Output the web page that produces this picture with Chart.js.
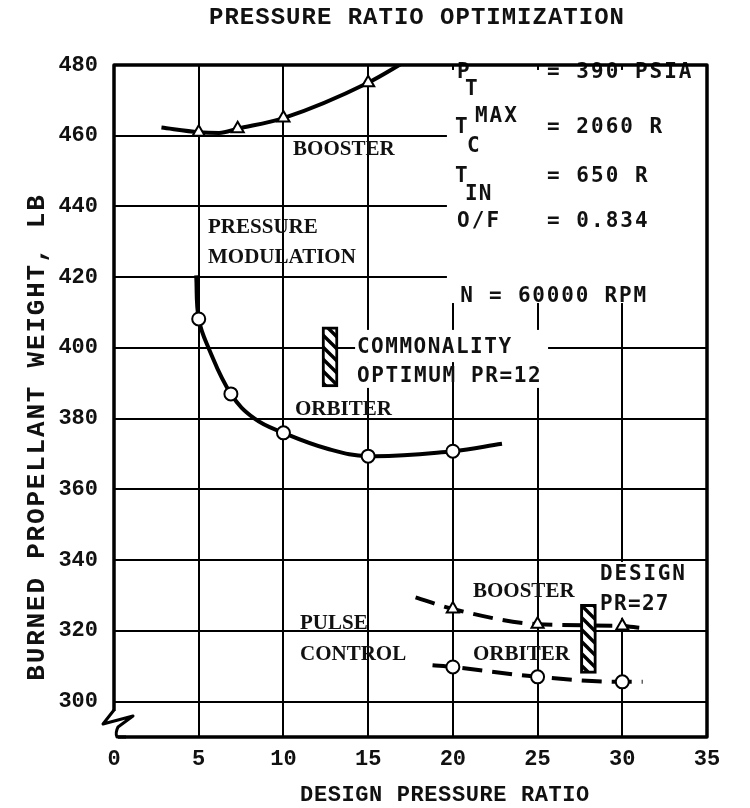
<!DOCTYPE html>
<html><head><meta charset="utf-8">
<script src="https://cdn.jsdelivr.net/npm/chart.js@4"></script>
<style>html,body{margin:0;padding:0;background:#fff}canvas{display:block}</style>
</head><body>
<canvas id="c" width="750" height="808"></canvas>
<script>
// ---------- text ----------
const chartTitle = 'PRESSURE RATIO OPTIMIZATION';
const xAxisTitle = 'DESIGN PRESSURE RATIO';
const yAxisTitle = 'BURNED PROPELLANT WEIGHT, LB';

// ---------- axes ----------
const xTicks = [0, 5, 10, 15, 20, 25, 30, 35];
const yTicks = [300, 320, 340, 360, 380, 400, 420, 440, 460, 480];
const xRange = [0, 35];
const yRange = [290, 480];

// ---------- pressure modulation: booster (solid, triangles) ----------
const pmBoosterCurveX = [2.8, 5, 6.2, 7.3, 10, 15, 17.2];
const pmBoosterCurveY = [462.3, 461, 460.8, 462, 465, 475, 481];
const pmBoosterPtsX = [5, 7.3, 10, 15];
const pmBoosterPtsY = [461, 462, 465, 475];

// ---------- pressure modulation: orbiter (solid, circles) ----------
const pmOrbiterCurveX = [4.85, 5, 5.58, 6.9, 8.3, 10, 12.6, 15, 20, 22.9];
const pmOrbiterCurveY = [420.5, 408.2, 400, 387, 380, 376, 371.5, 369.4, 370.8, 372.9];
const pmOrbiterPtsX = [5, 6.9, 10, 15, 20];
const pmOrbiterPtsY = [408.2, 387, 376, 369.4, 370.8];

// ---------- pulse control: booster (dashed, triangles) ----------
const pcBoosterCurveX = [17.8, 20, 25, 30, 31];
const pcBoosterCurveY = [329.5, 326.2, 321.9, 321.4, 320.9];
const pcBoosterPtsX = [20, 25, 30];
const pcBoosterPtsY = [326.2, 321.9, 321.4];

// ---------- pulse control: orbiter (dashed, circles) ----------
const pcOrbiterCurveX = [18.8, 20, 25, 30, 31.2];
const pcOrbiterCurveY = [310.3, 309.8, 307, 305.6, 305.6];
const pcOrbiterPtsX = [20, 25, 30];
const pcOrbiterPtsY = [309.8, 307, 305.6];

// ---------- optimum bands (hatched bars) ----------
const bandX = [12.75, 28];
const bandLow = [389, 308];
const bandHigh = [406, 327.5];

// ---------- helpers ----------
const toPts = (xs, ys) => xs.map((x, i) => ({x: x, y: ys[i]}));

function hatch() {
  const c = document.createElement('canvas');
  c.width = 12; c.height = 12;
  const g = c.getContext('2d');
  g.fillStyle = '#fff'; g.fillRect(0, 0, 12, 12);
  g.strokeStyle = '#000'; g.lineWidth = 3.4;
  g.beginPath();
  g.moveTo(-3, -3); g.lineTo(15, 15);
  g.moveTo(-15, -3); g.lineTo(3, 15);
  g.moveTo(9, -3); g.lineTo(27, 15);
  g.stroke();
  return document.getElementById('c').getContext('2d').createPattern(c, 'repeat');
}

const MONO = 'DejaVu Sans Mono';
const SERIF = 'Liberation Serif';
const TYPE = 'Liberation Mono';

// annotation text, positioned in data coordinates (x = left edge, y = baseline)
const labels = [
  {t: 'BOOSTER', x: 10.57, y: 454.6, f: SERIF, s: 21, b: true},
  {t: 'PRESSURE', x: 5.55, y: 432.5, f: SERIF, s: 21, b: true},
  {t: 'MODULATION', x: 5.55, y: 424.0, f: SERIF, s: 21, b: true},
  {t: 'ORBITER', x: 10.68, y: 381.1, f: SERIF, s: 21, b: true},
  {t: 'PULSE', x: 10.98, y: 320.4, f: SERIF, s: 21, b: true},
  {t: 'CONTROL', x: 10.98, y: 311.9, f: SERIF, s: 21, b: true},
  {t: 'BOOSTER', x: 21.19, y: 329.6, f: SERIF, s: 21, b: true},
  {t: 'ORBITER', x: 21.19, y: 311.9, f: SERIF, s: 21, b: true},
  {t: 'DESIGN', x: 28.69, y: 334.4, f: MONO, s: 21, sp: 1.8, b: true},
  {t: 'PR=27', x: 28.69, y: 325.9, f: MONO, s: 21, sp: 1.3, b: true},
  {t: 'COMMONALITY', x: 14.34, y: 398.6, f: MONO, s: 21, sp: 1.5, b: true},
  {t: 'OPTIMUM PR=12', x: 14.34, y: 390.4, f: MONO, s: 21, sp: 1.6, b: true},
  {t: 'P', x: 20.25, y: 476.3, f: MONO, s: 21, b: true},
  {t: 'T', x: 20.72, y: 471.5, f: MONO, s: 21, b: true},
  {t: 'MAX', x: 21.3, y: 463.9, f: MONO, s: 21, sp: 2, b: true},
  {t: '= 390 PSIA', x: 25.56, y: 476.3, f: MONO, s: 21, sp: 2, b: true},
  {t: 'T', x: 20.13, y: 460.8, f: MONO, s: 21, b: true},
  {t: 'C', x: 20.84, y: 455.4, f: MONO, s: 21, b: true},
  {t: '= 2060 R', x: 25.56, y: 460.8, f: MONO, s: 21, sp: 2, b: true},
  {t: 'T', x: 20.13, y: 446.9, f: MONO, s: 21, b: true},
  {t: 'IN', x: 20.72, y: 441.8, f: MONO, s: 21, sp: 1, b: true},
  {t: '= 650 R', x: 25.56, y: 446.9, f: MONO, s: 21, sp: 2, b: true},
  {t: 'O/F', x: 20.25, y: 434.2, f: MONO, s: 21, sp: 2, b: true},
  {t: '= 0.834', x: 25.56, y: 434.2, f: MONO, s: 21, sp: 2, b: true},
  {t: 'N = 60000 RPM', x: 20.43, y: 413.0, f: MONO, s: 21, sp: 1.8, b: true}
];
// white masks (data coords) that interrupt the grid behind text
const masks = [
  [19.65, 35, 478.6, 412.7],
  [14.23, 25.62, 405.1, 396.0],
  [14.23, 19.95, 396.0, 388.7],
  [20.54, 25.5, 396.0, 388.7],
  [28.51, 34.0, 339.5, 323.7]
];

function setSpacing(ctx, sp) {
  if ('letterSpacing' in ctx) ctx.letterSpacing = (sp || 0) + 'px';
}

const decor = {
  id: 'decor',
  beforeDatasetsDraw(chart) {
    const {ctx, scales: {x, y}} = chart;
    ctx.save();
    ctx.fillStyle = '#fff';
    masks.forEach(m => {
      const x0 = x.getPixelForValue(m[0]), x1 = x.getPixelForValue(m[1]);
      const y0 = y.getPixelForValue(m[2]), y1 = y.getPixelForValue(m[3]);
      ctx.fillRect(x0, y0, x1 - x0, y1 - y0);
    });
    ctx.restore();
  },
  afterDatasetsDraw(chart) {
    const {ctx, chartArea: a, scales: {x, y}} = chart;
    ctx.save();
    ctx.fillStyle = '#111';
    ctx.textBaseline = 'alphabetic';
    ctx.textAlign = 'left';
    labels.forEach(l => {
      ctx.font = (l.b ? 'bold ' : '') + l.s + 'px "' + l.f + '"';
      setSpacing(ctx, l.sp);
      ctx.fillText(l.t, x.getPixelForValue(l.x), y.getPixelForValue(l.y));
    });
    setSpacing(ctx, 0);
    // frame
    ctx.strokeStyle = '#000';
    ctx.lineWidth = 3.5;
    ctx.lineJoin = 'round';
    ctx.strokeRect(a.left, a.top, a.right - a.left, a.bottom - a.top);
    // axis break on the left
    const L = a.left, B = a.bottom;
    ctx.fillStyle = '#fff';
    ctx.fillRect(L - 4, B - 26, 8, 28);
    ctx.lineWidth = 3;
    ctx.beginPath();
    ctx.moveTo(L, B - 27);
    ctx.lineTo(L - 11, B - 13);
    ctx.lineTo(L + 19, B - 21);
    ctx.lineTo(L + 4, B - 10);
    ctx.quadraticCurveTo(L + 1, B - 4, L + 3, B);
    ctx.lineTo(L + 12, B);
    ctx.stroke();
    ctx.restore();
  },
  afterDraw(chart) {
    const {ctx} = chart;
    ctx.save();
    ctx.fillStyle = '#111';
    ctx.textAlign = 'center';
    ctx.textBaseline = 'middle';
    ctx.font = 'bold 24px "' + TYPE + '"';
    setSpacing(ctx, 1);
    ctx.fillText(chartTitle, 417, 18);
    ctx.font = 'bold 22px "' + TYPE + '"';
    setSpacing(ctx, 0.6);
    ctx.fillText(xAxisTitle, 445, 795);
    ctx.translate(37, 437);
    ctx.rotate(-Math.PI / 2);
    ctx.font = 'bold 26px "' + TYPE + '"';
    setSpacing(ctx, 1.8);
    ctx.fillText(yAxisTitle, 0, 0);
    ctx.restore();
  }
};

const solid = {borderColor: '#000', borderWidth: 4, pointRadius: 0, fill: false,
  cubicInterpolationMode: 'monotone', clip: 0, showLine: true, order: 3};
const smooth = Object.assign({}, solid, {cubicInterpolationMode: 'default', tension: 0.4});
const dashed = Object.assign({}, solid, {borderDash: [20, 10]});
const tri = {pointStyle: 'triangle', pointRadius: 7, backgroundColor: '#fff',
  borderColor: '#000', borderWidth: 2, showLine: false, order: 0};
const circ = {pointStyle: 'circle', pointRadius: 6.5, backgroundColor: '#fff',
  borderColor: '#000', borderWidth: 2, showLine: false, order: 0};

new Chart(document.getElementById('c'), {
  type: 'scatter',
  data: {
    datasets: [
      Object.assign({type: 'line', label: 'PM booster curve', data: toPts(pmBoosterCurveX, pmBoosterCurveY)}, solid),
      Object.assign({type: 'line', label: 'PM orbiter curve', data: toPts(pmOrbiterCurveX, pmOrbiterCurveY)}, smooth),
      Object.assign({type: 'line', label: 'PC booster curve', data: toPts(pcBoosterCurveX, pcBoosterCurveY)}, dashed),
      Object.assign({type: 'line', label: 'PC orbiter curve', data: toPts(pcOrbiterCurveX, pcOrbiterCurveY)}, dashed),
      {type: 'bar', label: 'optimum', data: bandX.map((v, i) => ({x: v, y: [bandLow[i], bandHigh[i]]})),
        backgroundColor: hatch(), borderColor: '#000', borderWidth: 3, borderSkipped: false,
        barThickness: 16, grouped: false, order: 1},
      Object.assign({label: 'PM booster', data: toPts(pmBoosterPtsX, pmBoosterPtsY)}, tri),
      Object.assign({label: 'PM orbiter', data: toPts(pmOrbiterPtsX, pmOrbiterPtsY)}, circ),
      Object.assign({label: 'PC booster', data: toPts(pcBoosterPtsX, pcBoosterPtsY)}, tri),
      Object.assign({label: 'PC orbiter', data: toPts(pcOrbiterPtsX, pcOrbiterPtsY)}, circ)
    ]
  },
  options: {
    responsive: false,
    devicePixelRatio: 1,
    animation: false,
    layout: {padding: {top: 65, right: 43, left: 0, bottom: 0}},
    plugins: {legend: {display: false}, tooltip: {enabled: false}, title: {display: false}},
    scales: {
      x: {
        type: 'linear', min: xRange[0], max: xRange[1], offset: false,
        afterBuildTicks: s => { s.ticks = xTicks.map(v => ({value: v})); },
        afterFit: s => { s.height = 71; },
        grid: {color: '#000', lineWidth: 2, drawTicks: false, offset: false},
        border: {display: false},
        ticks: {color: '#111', padding: 9, maxRotation: 0, autoSkip: false,
          font: {family: TYPE, size: 22, weight: 'bold'}}
      },
      y: {
        type: 'linear', min: yRange[0], max: yRange[1], offset: false,
        afterBuildTicks: s => { s.ticks = yTicks.map(v => ({value: v})); },
        afterFit: s => { s.width = 114; },
        grid: {color: '#000', lineWidth: 2, drawTicks: false, offset: false},
        border: {display: false},
        ticks: {color: '#111', padding: 16, autoSkip: false,
          font: {family: TYPE, size: 22, weight: 'bold'}}
      }
    }
  },
  plugins: [decor]
});
</script>
</body></html>
